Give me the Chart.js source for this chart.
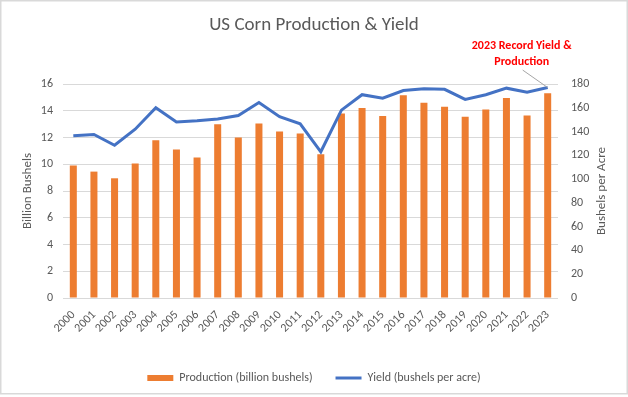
<!DOCTYPE html>
<html>
<head>
<meta charset="utf-8">
<script src="https://cdn.jsdelivr.net/npm/chart.js@4/dist/chart.umd.min.js"></script>
<style>
  html, body { margin: 0; padding: 0; background: #ffffff; }
  #wrap { width: 628px; height: 397px; position: relative; }
</style>
</head>
<body>
<div id="wrap"><canvas id="c" width="628" height="397"></canvas></div>
<script>
const years = ['2000','2001','2002','2003','2004','2005','2006','2007','2008','2009','2010','2011','2012','2013','2014','2015','2016','2017','2018','2019','2020','2021','2022','2023'];
const production = [9.9, 9.45, 8.95, 10.05, 11.8, 11.1, 10.5, 13.0, 12.0, 13.05, 12.45, 12.3, 10.75, 13.8, 14.2, 13.6, 15.15, 14.6, 14.3, 13.55, 14.1, 14.95, 13.65, 15.3];
const yieldPerAcre = [136.5, 137.5, 128.5, 142, 160, 148, 149, 150.5, 153.5, 164.5, 152.5, 146.5, 123, 158, 171, 168, 174.5, 176, 175.5, 167, 171, 176.5, 173, 177];
const seriesNames = ['Production (billion bushels)', 'Yield (bushels per acre)'];
const chartTitle = 'US Corn Production & Yield';
const leftAxisTitle = 'Billion Bushels';
const rightAxisTitle = 'Bushels per Acre';
const noteLines = ['2023 Record Yield &', 'Production'];

const FONT = 'Carlito, Lato, "Noto Sans", sans-serif';
const GREY = '#595959';

const framePlugin = {
  id: 'frame',
  beforeDraw(chart) {
    const ctx = chart.ctx;
    ctx.save();
    ctx.fillStyle = '#ffffff';
    ctx.fillRect(0, 0, chart.width, chart.height);
    ctx.strokeStyle = '#D9D9D9';
    ctx.lineWidth = 1.5;
    ctx.strokeRect(0.75, 0.75, chart.width - 1.5, 393);
    ctx.restore();
  },
  afterDraw(chart) {
    const ctx = chart.ctx;
    const ca = chart.chartArea;
    // right axis title (reads bottom-to-top)
    ctx.save();
    ctx.translate(602, (ca.top + ca.bottom) / 2);
    ctx.rotate(-Math.PI / 2);
    ctx.font = '13px ' + FONT;
    ctx.fillStyle = GREY;
    ctx.textAlign = 'center';
    ctx.textBaseline = 'middle';
    ctx.fillText(rightAxisTitle, 0, 0);
    ctx.restore();
    // annotation for 2023
    const meta = chart.getDatasetMeta(1);
    const pt = meta.data[meta.data.length - 1];
    if (pt) {
      ctx.save();
      ctx.strokeStyle = '#A6A6A6';
      ctx.lineWidth = 1;
      ctx.beginPath();
      ctx.moveTo(pt.x - 25, pt.y - 17.5);
      ctx.lineTo(pt.x, pt.y);
      ctx.stroke();
      ctx.fillStyle = '#FF0000';
      ctx.font = 'bold 12px ' + FONT;
      ctx.textAlign = 'center';
      ctx.textBaseline = 'middle';
      ctx.fillText(noteLines[0], pt.x - 26, pt.y - 41.5);
      ctx.fillText(noteLines[1], pt.x - 26, pt.y - 26);
      ctx.restore();
    }
  }
};

new Chart(document.getElementById('c'), {
  data: {
    labels: years,
    datasets: [
      {
        type: 'bar',
        label: seriesNames[0],
        data: production,
        backgroundColor: '#ED7D31',
        borderWidth: 0,
        yAxisID: 'y',
        barPercentage: 0.34,
        categoryPercentage: 1.0,
        pointStyle: 'rect',
        order: 1
      },
      {
        type: 'line',
        label: seriesNames[1],
        data: yieldPerAcre,
        borderColor: '#4472C4',
        backgroundColor: '#4472C4',
        borderWidth: 3,
        pointRadius: 0,
        pointHoverRadius: 0,
        tension: 0,
        yAxisID: 'y1',
        pointStyle: 'line',
        order: 0
      }
    ]
  },
  options: {
    responsive: false,
    animation: false,
    devicePixelRatio: 1,
    layout: { padding: { top: 0, left: 0, right: 0, bottom: 3 } },
    plugins: {
      title: {
        display: true,
        text: chartTitle,
        color: GREY,
        font: { family: FONT, size: 19, weight: 'normal' },
        padding: { top: 13.6, bottom: 47.6 }
      },
      legend: {
        position: 'bottom',
        labels: {
          color: GREY,
          font: { family: FONT, size: 12 },
          usePointStyle: true,
          pointStyleWidth: 26,
          boxHeight: 6,
          padding: 23,
          sort: (a, b) => a.datasetIndex - b.datasetIndex
        }
      },
      tooltip: { enabled: false }
    },
    scales: {
      x: {
        offset: true,
        grid: { display: false },
        border: { display: false },
        ticks: {
          color: GREY,
          font: { family: FONT, size: 12 },
          minRotation: 45,
          maxRotation: 45,
          autoSkip: false,
          padding: 2
        },
        afterFit: s => { s.height = 51; }
      },
      y: {
        position: 'left',
        min: 0,
        max: 16,
        ticks: { stepSize: 2, color: GREY, font: { family: FONT, size: 12 }, padding: 10 },
        grid: { color: '#D9D9D9', lineWidth: 1, drawTicks: false },
        border: { display: false },
        title: {
          display: true,
          text: leftAxisTitle,
          color: GREY,
          font: { family: FONT, size: 13 },
          padding: { top: 20, bottom: 0 }
        },
        afterFit: s => { s.width = 63; }
      },
      y1: {
        position: 'right',
        min: 0,
        max: 180,
        ticks: { stepSize: 20, color: GREY, font: { family: FONT, size: 12 }, padding: 13 },
        grid: { drawOnChartArea: false, drawTicks: false },
        border: { display: false },
        afterFit: s => { s.width = 70; }
      }
    }
  },
  plugins: [framePlugin]
});
</script>
</body>
</html>
